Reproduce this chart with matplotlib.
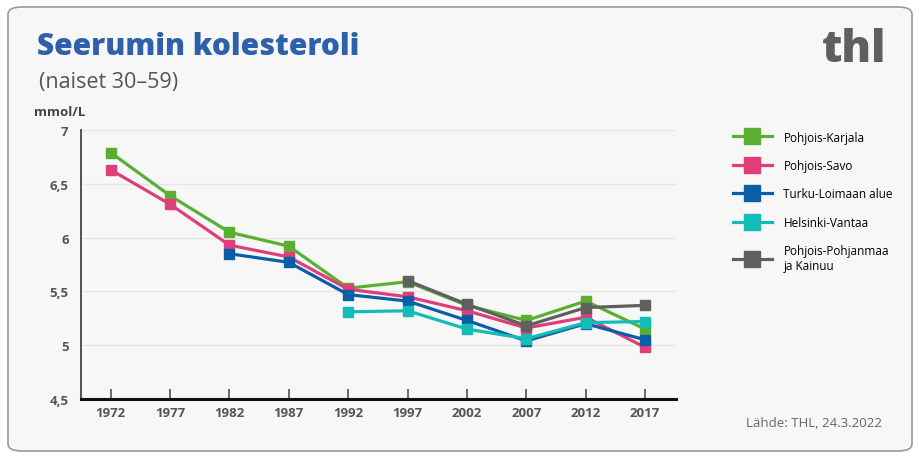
import matplotlib
matplotlib.use("Agg")
import matplotlib.pyplot as plt
from matplotlib.patches import FancyBboxPatch

plt.rcParams['font.family'] = ['Open Sans', 'DejaVu Sans']

years = [1972, 1977, 1982, 1987, 1992, 1997, 2002, 2007, 2012, 2017]

pohjois_karjala = [6.79, 6.39, 6.05, 5.92, 5.53, 5.59, 5.37, 5.23, 5.41, 5.15]
pohjois_savo = [6.63, 6.31, 5.93, 5.82, 5.52, 5.45, 5.32, 5.16, 5.26, 4.98]
turku_loimaa = [None, None, 5.85, 5.77, 5.47, 5.41, 5.23, 5.04, 5.20, 5.05]
helsinki_vantaa = [None, None, None, None, 5.31, 5.32, 5.15, 5.06, 5.21, 5.22]
pohjois_pohjanmaa = [None, None, None, None, None, 5.60, 5.38, 5.18, 5.35, 5.37]

series = [
    ("Pohjois-Karjala", pohjois_karjala, "#5aaf32"),
    ("Pohjois-Savo", pohjois_savo, "#df3f78"),
    ("Turku-Loimaan alue", turku_loimaa, "#0a5ea8"),
    ("Helsinki-Vantaa", helsinki_vantaa, "#12bdb5"),
    ("Pohjois-Pohjanmaa\nja Kainuu", pohjois_pohjanmaa, "#5f5f5f"),
]

yticks = [4.5, 5, 5.5, 6, 6.5, 7]
ytick_labels = ["4,5", "5", "5,5", "6", "6,5", "7"]

W, H = 920, 460


def fx(px):
    return px / W


def fy(py):
    # pixel from top -> figure fraction from bottom
    return 1 - py / H


fig = plt.figure(figsize=(9.2, 4.6), dpi=100)
fig.patch.set_facecolor("white")

# rounded card background
card = FancyBboxPatch((fx(8), 8 / H), 904 / W, 444 / H,
                      boxstyle="round,pad=0,rounding_size=0.015",
                      transform=fig.transFigure, facecolor="#f7f7f7",
                      edgecolor="#9a9a9a", linewidth=1.2, zorder=-10)
fig.patches.append(card)

ax = fig.add_axes([fx(81), fy(400), 595 / W, 269 / H])
ax.set_facecolor("none")

handles = []
for label, vals, color in series:
    xs = [y for y, v in zip(years, vals) if v is not None]
    ys = [v for v in vals if v is not None]
    h, = ax.plot(xs, ys, color=color, linewidth=2.3, marker="s",
                 markersize=7.5, markeredgecolor=color, label=label, zorder=3)
    handles.append(h)

ax.set_xlim(1969.5, 2019.6)
ax.set_ylim(4.5, 7)
ax.set_xticks(years)
ax.set_xticklabels([str(y) for y in years], fontsize=9.5, fontweight="bold", color="#555555")
ax.set_yticks(yticks)
ax.set_yticklabels(ytick_labels, fontsize=9.5, fontweight="bold", color="#555555")
ax.tick_params(axis="y", length=0, pad=9)
ax.tick_params(axis="x", length=7, width=1.1, color="#444444", pad=5, direction="in")
ax.grid(axis="y", color="#e6e6e6", linewidth=1, zorder=0)
for s in ["top", "right"]:
    ax.spines[s].set_visible(False)
ax.spines["left"].set_color("#444444")
ax.spines["left"].set_linewidth(1.3)
ax.spines["bottom"].set_color("#111111")
ax.spines["bottom"].set_linewidth(2.2)

fig.legend(handles=handles, loc="upper left", bbox_to_anchor=(fx(722), fy(121)),
           frameon=False, fontsize=8.5, handlelength=3.3, handletextpad=1.0,
           labelspacing=1.3, markerscale=1.5)

fig.text(fx(37), fy(47), "Seerumin kolesteroli", fontsize=21.5, fontweight=800,
         color="#2f60ac", va="center", ha="left")
fig.text(fx(39), fy(83), "(naiset 30–59)", fontsize=15.5, color="#555555",
         va="center", ha="left")
fig.text(fx(34), fy(113), "mmol/L", fontsize=9.5, fontweight="bold", color="#444444",
         va="center", ha="left")
fig.text(fx(886), fy(50), "thl", fontsize=32, fontweight=800, color="#5f5f5f",
         va="center", ha="right")
fig.text(fx(882), fy(424), "Lähde: THL, 24.3.2022", fontsize=9.5, color="#666666",
         va="center", ha="right")

fig.savefig("out.png", dpi=100, facecolor=fig.get_facecolor())
